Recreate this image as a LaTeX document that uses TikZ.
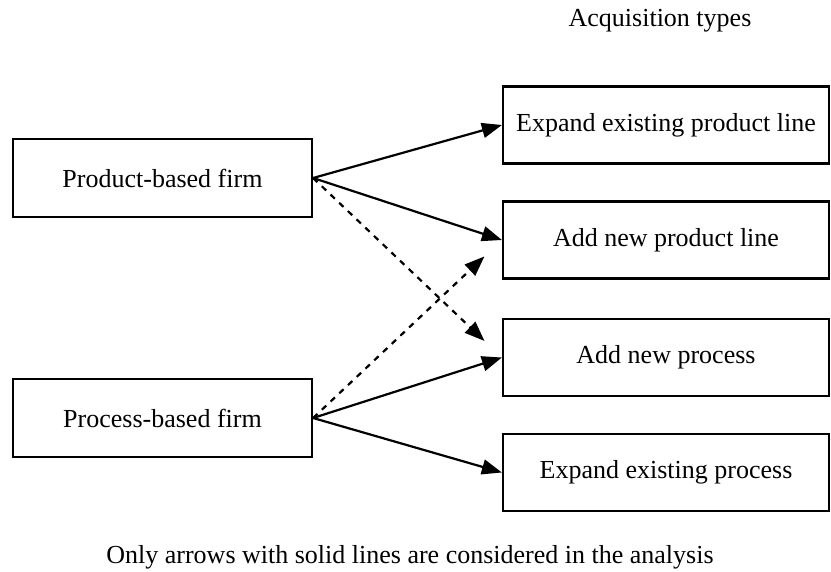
\documentclass[tikz,border=0pt]{standalone}
\usepackage{fontspec}
\setmainfont{Liberation Serif}
\usetikzlibrary{arrows.meta}
\tikzset{
  firmbox/.style={draw,line width=1.1pt,minimum width=149.5pt,minimum height=39pt,inner sep=0pt},
  typebox/.style={draw,line width=1.1pt,minimum width=163pt,minimum height=38.5pt,inner sep=0pt},
  link/.style={line width=1.1pt,-{Triangle[length=10pt,width=7.5pt]}},
  maybe/.style={link,dashed,shorten >=12pt}
}
\begin{document}
\begin{tikzpicture}[x=0.5pt,y=-0.5pt,font=\fontsize{13}{15}\selectfont]
\useasboundingbox (0,0) rectangle (831,572);
\node[firmbox] (prod) at (162.5,178) {Product-based firm};
\node[firmbox] (proc) at (162.5,418) {Process-based firm};
\node[typebox] (expline) at (666,125) {Expand existing product line};
\node[typebox] (newline) at (666,240) {Add new product line};
\node[typebox] (newproc) at (666,357.5) {Add new process};
\node[typebox] (expproc) at (666,472.5) {Expand existing process};
\node (types) at (660,21) {Acquisition types};
\node (note) at (410,557) {Only arrows with solid lines are considered in the analysis};
\draw[link] (prod.east)--(expline.west);
\draw[link] (prod.east)--(newline.west);
\draw[maybe] (prod.east)--(newproc.west);
\draw[maybe] (proc.east)--(newline.west);
\draw[link] (proc.east)--(newproc.west);
\draw[link] (proc.east)--(expproc.west);
\end{tikzpicture}
\end{document}
